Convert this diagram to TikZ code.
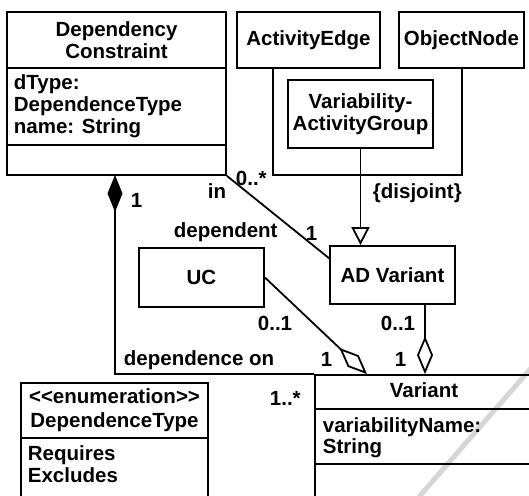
\documentclass[tikz,border=0pt]{standalone}
\usepackage{fontspec}
\setmainfont{Liberation Sans}
\usetikzlibrary{arrows.meta}
\begin{document}
\begin{tikzpicture}[x=1pt,y=-1pt,line width=1.8pt,
  txt/.style={font=\fontsize{20.5}{22}\selectfont\bfseries, inner sep=0pt},
  box/.style={draw, line width=1.8pt, inner sep=0pt},
  comp/.style={{Diamond[length=37pt,width=15pt,fill=black]}-},
  aggr/.style={-{Diamond[length=38pt,width=16pt,fill=white]}},
  gen/.style={-{Triangle[length=18pt,width=18pt,fill=white]}},
  lbl/.style={txt, anchor=base west}]
\useasboundingbox (0,0) rectangle (529,495);
\clip (0,0) rectangle (529,495);
\fill[white] (0,0) rectangle (529,495);
% watermark stroke
\draw[black!16, line width=5pt] (418,498) -- (533,366);
% DependencyConstraint
\node[box, minimum width=219pt, minimum height=163pt] (dc) at (116.5,93.5) {};
\node[txt, align=center] (dcT) at (116.5,40) {Dependency\\Constraint};
\draw (dc.west |- 0,68) -- (dc.east |- 0,68);
\draw (dc.west |- 0,145) -- (dc.east |- 0,145);
\node[lbl] (dcA1) at (13,89) {dType:};
\node[lbl] (dcA2) at (13,111) {DependenceType};
\node[lbl] (dcA3) at (13,133) {name: String};
% ActivityEdge, ObjectNode, VAG
\node[box, minimum width=143pt, minimum height=56pt, txt] (ae) at (308.5,40) {ActivityEdge};
\node[box, minimum width=125pt, minimum height=56pt, txt] (on) at (461.5,40) {ObjectNode};
\node[box, minimum width=145pt, minimum height=68pt, txt, align=center] (vag) at (360.5,114) {Variability-\\ActivityGroup};
% UC, AD Variant
\node[box, minimum width=125pt, minimum height=59pt, txt] (uc) at (201.5,277.5) {UC};
\node[box, minimum width=125pt, minimum height=58pt, txt] (adv) at (392.5,275) {AD Variant};
% Variant
\node[box, minimum width=218pt, minimum height=145pt] (var) at (424,447.5) {};
\node[txt, anchor=base] (varT) at (424,397) {Variant};
\draw (var.west |- 0,409) -- (var.east |- 0,409);
\draw (var.west |- 0,464) -- (var.east |- 0,464);
\node[lbl] (varA1) at (322,432) {variabilityName:};
\node[lbl] (varA2) at (322,453) {String};
% DependenceType
\node[box, minimum width=187pt, minimum height=137pt] (dt) at (114.5,451.5) {};
\node[txt, anchor=base] (dtT1) at (114.5,403) {{<}{<}enumeration{>}{>}};
\node[txt, anchor=base] (dtT2) at (114.5,427) {DependenceType};
\draw (dt.west |- 0,438) -- (dt.east |- 0,438);
\node[lbl] (dtL1) at (27,460) {Requires};
\node[lbl] (dtL2) at (27,482) {Excludes};
% connectors
\coordinate (dcB) at (115,175);
\draw[comp] (dcB) |- (var.north west);
\coordinate (advL) at (330,259);
\draw (dc.south east) -- (advL);
\draw[gen] (vag.south) -- (vag.south |- adv.north);
\coordinate (jn) at (vag.south |- 0,175);
\draw (ae.south -| 273,0) |- (jn) -| (on.south -| 462,0);
\draw[aggr] (uc.east) -- (var.north -| 367,0);
\draw[aggr] (adv.south -| 425,0) -- (var.north -| 425,0);
% labels
\node[lbl] (m1) at (235,185) {0..*};
\node[lbl] (m2) at (207,198) {in};
\node[lbl] (m3) at (130,207) {1};
\node[lbl] (m4) at (173,237) {dependent};
\node[lbl] (m5) at (305,240) {1};
\node[lbl] (m6) at (372,198) {\{disjoint\}};
\node[lbl] (m7) at (257,330) {0..1};
\node[lbl] (m8) at (380,330) {0..1};
\node[lbl] (m9) at (123,365) {dependence on};
\node[lbl] (m10) at (320,366) {1};
\node[lbl] (m11) at (394,366) {1};
\node[lbl] (m12) at (269,405) {1..*};
\end{tikzpicture}
\end{document}
